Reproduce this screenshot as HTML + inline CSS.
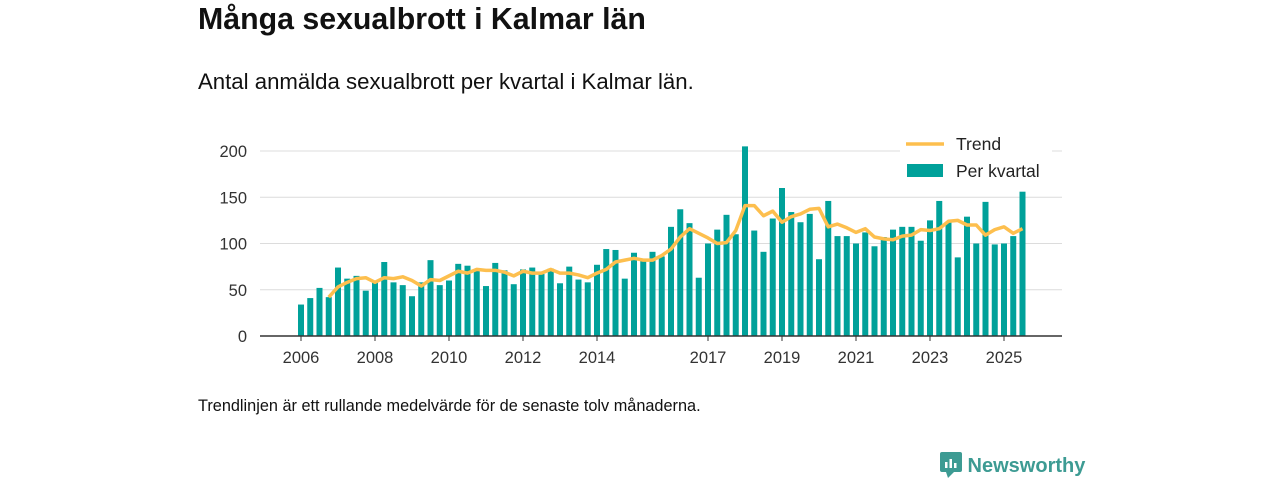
<!DOCTYPE html>
<html><head><meta charset="utf-8">
<style>
body{margin:0;width:1280px;height:480px;background:#fff;font-family:"Liberation Sans",sans-serif;color:#111;position:relative;overflow:hidden}
.t{position:absolute;white-space:nowrap}
</style></head><body>
<div class="t" style="left:198px;top:3px;font-size:30.3px;font-weight:bold">Många sexualbrott i Kalmar län</div>
<div class="t" style="left:198px;top:69px;font-size:22.2px">Antal anmälda sexualbrott per kvartal i Kalmar län.</div>
<svg id="chart" width="1280" height="480" style="position:absolute;left:0;top:0"></svg>
<div class="t" style="left:198px;top:397px;font-size:16.3px">Trendlinjen är ett rullande medelvärde för de senaste tolv månaderna.</div>
<div class="t" style="left:940px;top:452px;font-size:20px;font-weight:bold;color:#3d9b93">
<svg width="22" height="26" style="vertical-align:-6px"><rect x="0" y="0" width="22" height="20" rx="2" fill="#3d9b93"/><polygon points="6,20 14,20 8,26" fill="#3d9b93"/><rect x="5" y="10" width="2.5" height="6" fill="#fff"/><rect x="9.5" y="7" width="2.5" height="9" fill="#fff"/><rect x="14" y="11" width="2.5" height="5" fill="#fff"/></svg> Newsworthy</div>
<script>
const values=[34,41,52,42,74,62,65,49,58,80,58,55,43,58,82,55,60,78,76,71,54,79,71,56,72,74,67,73,57,75,61,58,77,94,93,62,90,81,91,86,118,137,122,63,100,115,131,110,205,114,91,127,160,134,123,132,83,146,108,108,100,112,97,107,115,118,118,103,125,146,123,85,129,100,145,99,100,108,156];
const trend=[null,null,null,42,53,58,62,63,58,63,62,64,60,54,61,60,65,70,68,72,71,71,69,65,70,68,68,72,68,68,66,63,68,72,80,82,84,82,82,87,94,107,116,111,106,100,101,114,141,141,130,135,123,129,132,137,138,118,121,117,112,116,107,105,104,108,109,115,114,116,124,125,120,120,109,115,118,111,116];
const tickYears=[2006,2008,2010,2012,2014,2017,2019,2021,2023,2025];
const yTicks=[0,50,100,150,200];
const startYear=2006;
const svg=document.getElementById('chart');const NS='http://www.w3.org/2000/svg';
const x=i=>301+i*9.25, y=v=>336-v*0.925;
function mk(t,a){const e=document.createElementNS(NS,t);for(const k in a)e.setAttribute(k,a[k]);svg.appendChild(e);return e;}
yTicks.forEach(v=>{
 if(v>0){const g=mk('line',{x1:260,x2:1062,y1:y(v),y2:y(v),stroke:'#dcdcdc','stroke-width':1});
 
 }
 const t=mk('text',{x:247,y:y(v)+6,'text-anchor':'end','font-size':16.5,fill:'#333'});t.textContent=v;
 
 
});
values.forEach((v,i)=>{const r=mk('rect',{x:x(i)-3,y:y(v),width:6,height:v*0.925,fill:'#00a19a'});
 
 });
let d='';trend.forEach((v,i)=>{if(v!=null)d+=(d?'L':'M')+x(i)+','+y(v);});
const p=mk('path',{d:d,fill:'none',stroke:'#fdbf4e','stroke-width':3.5,'stroke-linejoin':'round'});


const ax=mk('line',{x1:260,x2:1062,y1:336,y2:336,stroke:'#333','stroke-width':1.5});


tickYears.forEach(yr=>{const xx=x((yr-startYear)*4);
 const tk=mk('line',{x1:xx,x2:xx,y1:336,y2:341,stroke:'#333'});
 
 
 const t=mk('text',{x:xx,y:363,'text-anchor':'middle','font-size':16.5,fill:'#333'});t.textContent=yr;
 
 });
const bg=mk('rect',{x:900,y:132,width:152,height:50,fill:'#fff'});


const l1=mk('line',{x1:906,x2:944,y1:144,y2:144,stroke:'#fdbf4e','stroke-width':3.5});


const t1=mk('text',{x:956,y:150,'font-size':17.5,fill:'#222'});t1.textContent='Trend';


const r2=mk('rect',{x:907,y:164,width:36,height:13,fill:'#00a19a'});


const t2=mk('text',{x:956,y:177,'font-size':17.5,fill:'#222'});t2.textContent='Per kvartal';


</script>
</body></html>
